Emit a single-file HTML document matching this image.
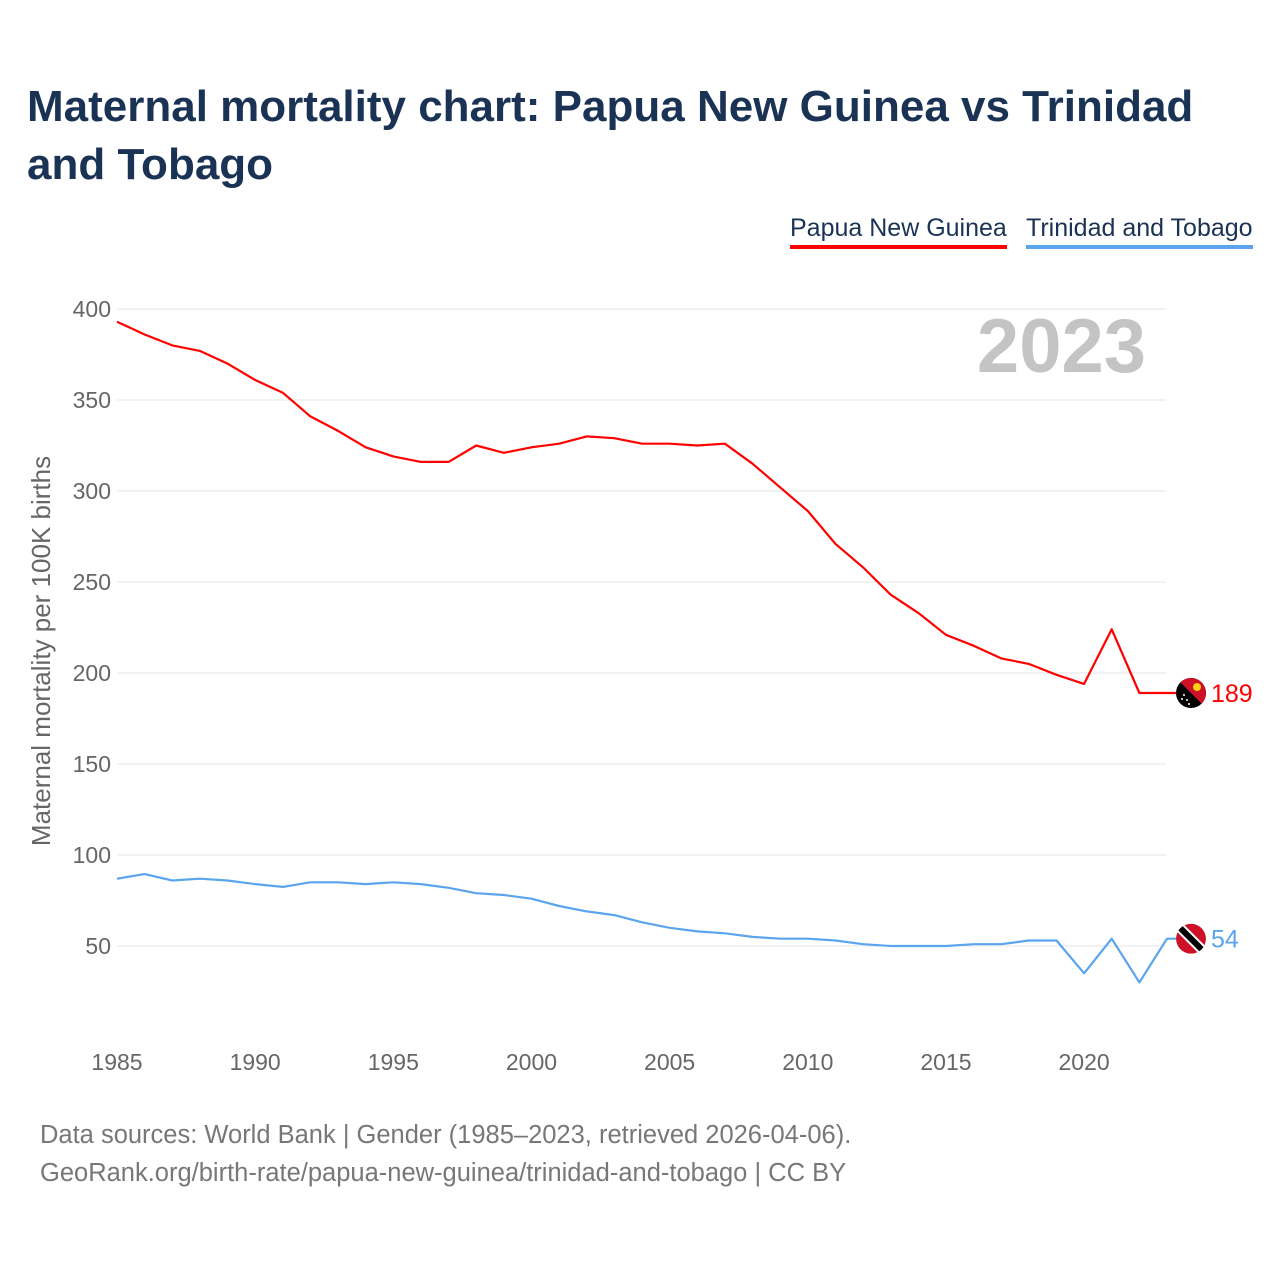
<!DOCTYPE html>
<html><head><meta charset="utf-8">
<style>
html,body{margin:0;padding:0;background:#fff;}
body{width:1280px;height:1280px;position:relative;font-family:"Liberation Sans",sans-serif;overflow:hidden;}
#title{position:absolute;left:27px;top:78px;width:1230px;font-size:44px;font-weight:bold;color:#1a3355;line-height:58px;margin:0;}
.leg{position:absolute;top:214px;font-size:25px;color:#1a3355;padding-bottom:2px;}
#src{position:absolute;left:40px;top:1116px;font-size:25.5px;color:#777;line-height:38px;}
</style></head><body>
<h1 id="title">Maternal mortality chart: Papua New Guinea vs Trinidad and Tobago</h1>
<div class="leg" style="left:790px;border-bottom:4px solid #ff0000;">Papua New Guinea</div>
<div class="leg" style="left:1026px;border-bottom:4px solid #5aa5ee;">Trinidad and Tobago</div>
<svg id="chart" width="1280" height="1280" style="position:absolute;left:0;top:0;"></svg>
<div id="src">Data sources: World Bank | Gender (1985–2023, retrieved 2026-04-06).<br>GeoRank.org/birth-rate/papua-new-guinea/trinidad-and-tobago | CC BY</div>
<script>
const years=[];for(let y=1985;y<=2023;y++)years.push(y);
const png=[393,386,380,377,370,361,354,341,333,324,319,316,316,325,321,324,326,330,329,326,326,325,326,315,302,289,271,258,243,233,221,215,208,205,199,194,224,189,189];
const tto=[87,89.5,86,87,86,84,82.5,85,85,84,85,84,82,79,78,76,72,69,67,63,60,58,57,55,54,54,53,51,50,50,50,51,51,53,53,35,54,30,54];
const yTicks=[50,100,150,200,250,300,350,400];
const xTicks=[1985,1990,1995,2000,2005,2010,2015,2020];
const NS="http://www.w3.org/2000/svg";
const svg=document.getElementById('chart');
const X=y=>117+(y-1985)*(1167-117)/38;
const Y=v=>946-(v-50)*(946-309)/350;
function mk(t,a,p){const e=document.createElementNS(NS,t);for(const k in a)e.setAttribute(k,a[k]);(p||svg).appendChild(e);return e;}
yTicks.forEach(v=>{
 const l=mk('line',{x1:117,x2:1166,y1:Y(v),y2:Y(v),stroke:'#e6e6e6','stroke-width':1});
 
 
 const t=mk('text',{x:111,y:Y(v)+8,'text-anchor':'end','font-size':23,fill:'#666','font-family':'Liberation Sans, sans-serif'});
 t.textContent=v;
 
 
});
xTicks.forEach(v=>{
 const t=mk('text',{x:X(v),y:1070,'text-anchor':'middle','font-size':23,fill:'#666','font-family':'Liberation Sans, sans-serif'});
 t.textContent=v;
 
 
});
const yt=mk('text',{transform:'translate(50,651) rotate(-90)','text-anchor':'middle','font-size':26,fill:'#666','font-family':'Liberation Sans, sans-serif'});
yt.textContent='Maternal mortality per 100K births';


const yr=mk('text',{x:1146,y:372,'text-anchor':'end','font-size':76,'font-weight':'bold',fill:'#c4c4c4','font-family':'Liberation Sans, sans-serif'});
yr.textContent='2023';


function series(vals,color,name,label){
 let d=vals.map((v,i)=>(i?'L':'M')+X(years[i]).toFixed(1)+' '+Y(v).toFixed(1)).join(' ');
 const last=vals[vals.length-1];
 d+=' L1176 '+Y(last).toFixed(1);
 const p=mk('path',{d:d,fill:'none',stroke:color,'stroke-width':2.2,'stroke-linejoin':'round'});
 
 
 const t=mk('text',{x:1211,y:Y(last)+9,'font-size':25,fill:color,'font-family':'Liberation Sans, sans-serif'});
 t.textContent=label;
 
 
 return Y(last);
}
const py=series(png,'#ff0000','papua-new-guinea',String(png[png.length-1]));
const ty=series(tto,'#5aa5ee','trinidad-and-tobago',String(tto[tto.length-1]));
const g1=mk('g',{});


mk('defs',{},g1).innerHTML='<clipPath id="c1"><circle cx="1191" cy="'+py+'" r="15"/></clipPath><clipPath id="c2"><circle cx="1191" cy="'+ty+'" r="15"/></clipPath>';
mk('circle',{cx:1191,cy:py,r:15,fill:'#000'},g1);
mk('polygon',{points:`1176,${py-15} 1206,${py-15} 1206,${py+15}`,fill:'#ce1126','clip-path':'url(#c1)'},g1);
mk('circle',{cx:1197,cy:py-6,r:4,fill:'#fcd116'},g1);
[[-7,2],[-4,7],[-9,6],[-2,11]].forEach(s=>mk('circle',{cx:1191+s[0],cy:py+s[1],r:1,fill:'#fff'},g1));
const g2=mk('g',{'clip-path':'url(#c2)'});


mk('circle',{cx:1191,cy:ty,r:15,fill:'#ce1126'},g2);
mk('line',{x1:1176,y1:ty-15,x2:1206,y2:ty+15,stroke:'#fff','stroke-width':10},g2);
mk('line',{x1:1176,y1:ty-15,x2:1206,y2:ty+15,stroke:'#000','stroke-width':6},g2);
</script>
</body></html>
